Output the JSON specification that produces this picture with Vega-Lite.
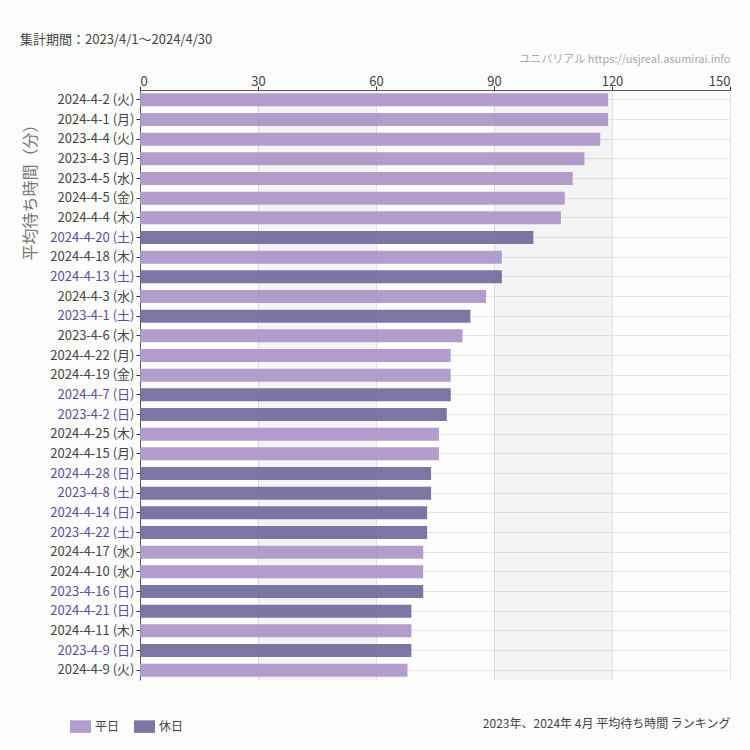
{
  "$schema": "https://vega.github.io/schema/vega-lite/v6.json",
  "width": 590,
  "height": 590,
  "autosize": {"type": "none"},
  "padding": {"left": 140, "top": 90, "right": 20, "bottom": 70},
  "background": "#fcfdfc",
  "title": {
    "text": "集計期間：2023/4/1～2024/4/30",
    "anchor": "start",
    "frame": "group",
    "dx": -120,
    "dy": -2,
    "fontSize": 13,
    "fontWeight": "normal",
    "color": "#444444",
    "font": "Noto Sans CJK JP"
  },
  "config": {
    "view": {"stroke": null},
    "font": "Noto Sans CJK JP"
  },
  "datasets": {
    "ranks": [
      {"label": "2024-4-2 (火)", "value": 119, "type": "平日"},
      {"label": "2024-4-1 (月)", "value": 119, "type": "平日"},
      {"label": "2023-4-4 (火)", "value": 117, "type": "平日"},
      {"label": "2023-4-3 (月)", "value": 113, "type": "平日"},
      {"label": "2023-4-5 (水)", "value": 110, "type": "平日"},
      {"label": "2024-4-5 (金)", "value": 108, "type": "平日"},
      {"label": "2024-4-4 (木)", "value": 107, "type": "平日"},
      {"label": "2024-4-20 (土)", "value": 100, "type": "休日"},
      {"label": "2024-4-18 (木)", "value": 92, "type": "平日"},
      {"label": "2024-4-13 (土)", "value": 92, "type": "休日"},
      {"label": "2024-4-3 (水)", "value": 88, "type": "平日"},
      {"label": "2023-4-1 (土)", "value": 84, "type": "休日"},
      {"label": "2023-4-6 (木)", "value": 82, "type": "平日"},
      {"label": "2024-4-22 (月)", "value": 79, "type": "平日"},
      {"label": "2024-4-19 (金)", "value": 79, "type": "平日"},
      {"label": "2024-4-7 (日)", "value": 79, "type": "休日"},
      {"label": "2023-4-2 (日)", "value": 78, "type": "休日"},
      {"label": "2024-4-25 (木)", "value": 76, "type": "平日"},
      {"label": "2024-4-15 (月)", "value": 76, "type": "平日"},
      {"label": "2024-4-28 (日)", "value": 74, "type": "休日"},
      {"label": "2023-4-8 (土)", "value": 74, "type": "休日"},
      {"label": "2024-4-14 (日)", "value": 73, "type": "休日"},
      {"label": "2023-4-22 (土)", "value": 73, "type": "休日"},
      {"label": "2024-4-17 (水)", "value": 72, "type": "平日"},
      {"label": "2024-4-10 (水)", "value": 72, "type": "平日"},
      {"label": "2023-4-16 (日)", "value": 72, "type": "休日"},
      {"label": "2024-4-21 (日)", "value": 69, "type": "休日"},
      {"label": "2024-4-11 (木)", "value": 69, "type": "平日"},
      {"label": "2023-4-9 (日)", "value": 69, "type": "休日"},
      {"label": "2024-4-9 (火)", "value": 68, "type": "平日"}
    ],
    "stripes": [
      {"s": 30, "e": 60},
      {"s": 90, "e": 120}
    ]
  },
  "resolve": {"axis": {"x": "independent"}},
  "layer": [
    {
      "data": {"name": "stripes"},
      "mark": {"type": "rect", "color": "#000000", "opacity": 0.035},
      "encoding": {
        "x": {
          "field": "s",
          "type": "quantitative",
          "scale": {"domain": [0, 150], "nice": false},
          "axis": {
            "orient": "bottom",
            "title": "2023年、2024年 4月 平均待ち時間 ランキング",
            "titleAnchor": "end",
            "titleAlign": "right",
            "titleFontSize": 12,
            "titleFontWeight": "normal",
            "titleColor": "#444444",
            "titleFont": "Noto Sans CJK JP",
            "titlePadding": 38,
            "labels": false,
            "ticks": false,
            "domain": false,
            "grid": false
          }
        },
        "x2": {"field": "e"}
      }
    },
    {
      "data": {"name": "ranks"},
      "mark": {"type": "bar", "opacity": 0.9},
      "encoding": {
        "y": {
          "field": "label",
          "type": "nominal",
          "sort": null,
          "scale": {"paddingInner": 0.34, "paddingOuter": 0.17},
          "axis": {
            "title": "平均待ち時間（分）",
            "titleFontSize": 16,
            "titleFontWeight": "normal",
            "titleColor": "#777777",
            "titleAngle": -90,
            "titleAlign": "right",
            "titleBaseline": "middle",
            "titleX": -110,
            "titleY": 26,
            "labelFontSize": 13,
            "labelColor": {"expr": "test(/[土日]\\)/, datum.label) ? '#5b4f99' : '#444444'"},
            "labelPadding": 2,
            "tickSize": 4,
            "tickColor": "#333333",
            "domainColor": "#555555",
            "gridColor": "#e6e6e6",
            "grid": true
          }
        },
        "x": {
          "field": "value",
          "type": "quantitative",
          "scale": {"domain": [0, 150], "nice": false},
          "axis": {
            "orient": "top",
            "values": [0, 30, 60, 90, 120, 150],
            "title": "ユニバリアル  https://usjreal.asumirai.info",
            "titleAnchor": "end",
            "titleAlign": "right",
            "titleFontSize": 11,
            "titleFontWeight": "normal",
            "titleColor": "#aaaaaa",
            "titlePadding": 11,
            "labelFontSize": 13,
            "labelColor": "#444444",
            "labelPadding": -2,
            "tickSize": 4,
            "tickColor": "#333333",
            "domainColor": "#555555",
            "gridColor": "#e2e2e2",
            "grid": true
          }
        },
        "color": {
          "field": "type",
          "type": "nominal",
          "scale": {"domain": ["平日", "休日"], "range": ["#ab92c6", "#6d6799"]},
          "legend": {
            "orient": "none",
            "direction": "horizontal",
            "legendX": -70,
            "legendY": 626,
            "title": null,
            "symbolType": "M-1,-0.6H1V0.6H-1Z",
            "symbolSize": 440,
            "symbolOpacity": 0.9,
            "labelFontSize": 12,
            "labelColor": "#444444",
            "labelOffset": 4,
            "columnPadding": 14,
            "symbolStrokeWidth": 0
          }
        }
      }
    }
  ]
}
